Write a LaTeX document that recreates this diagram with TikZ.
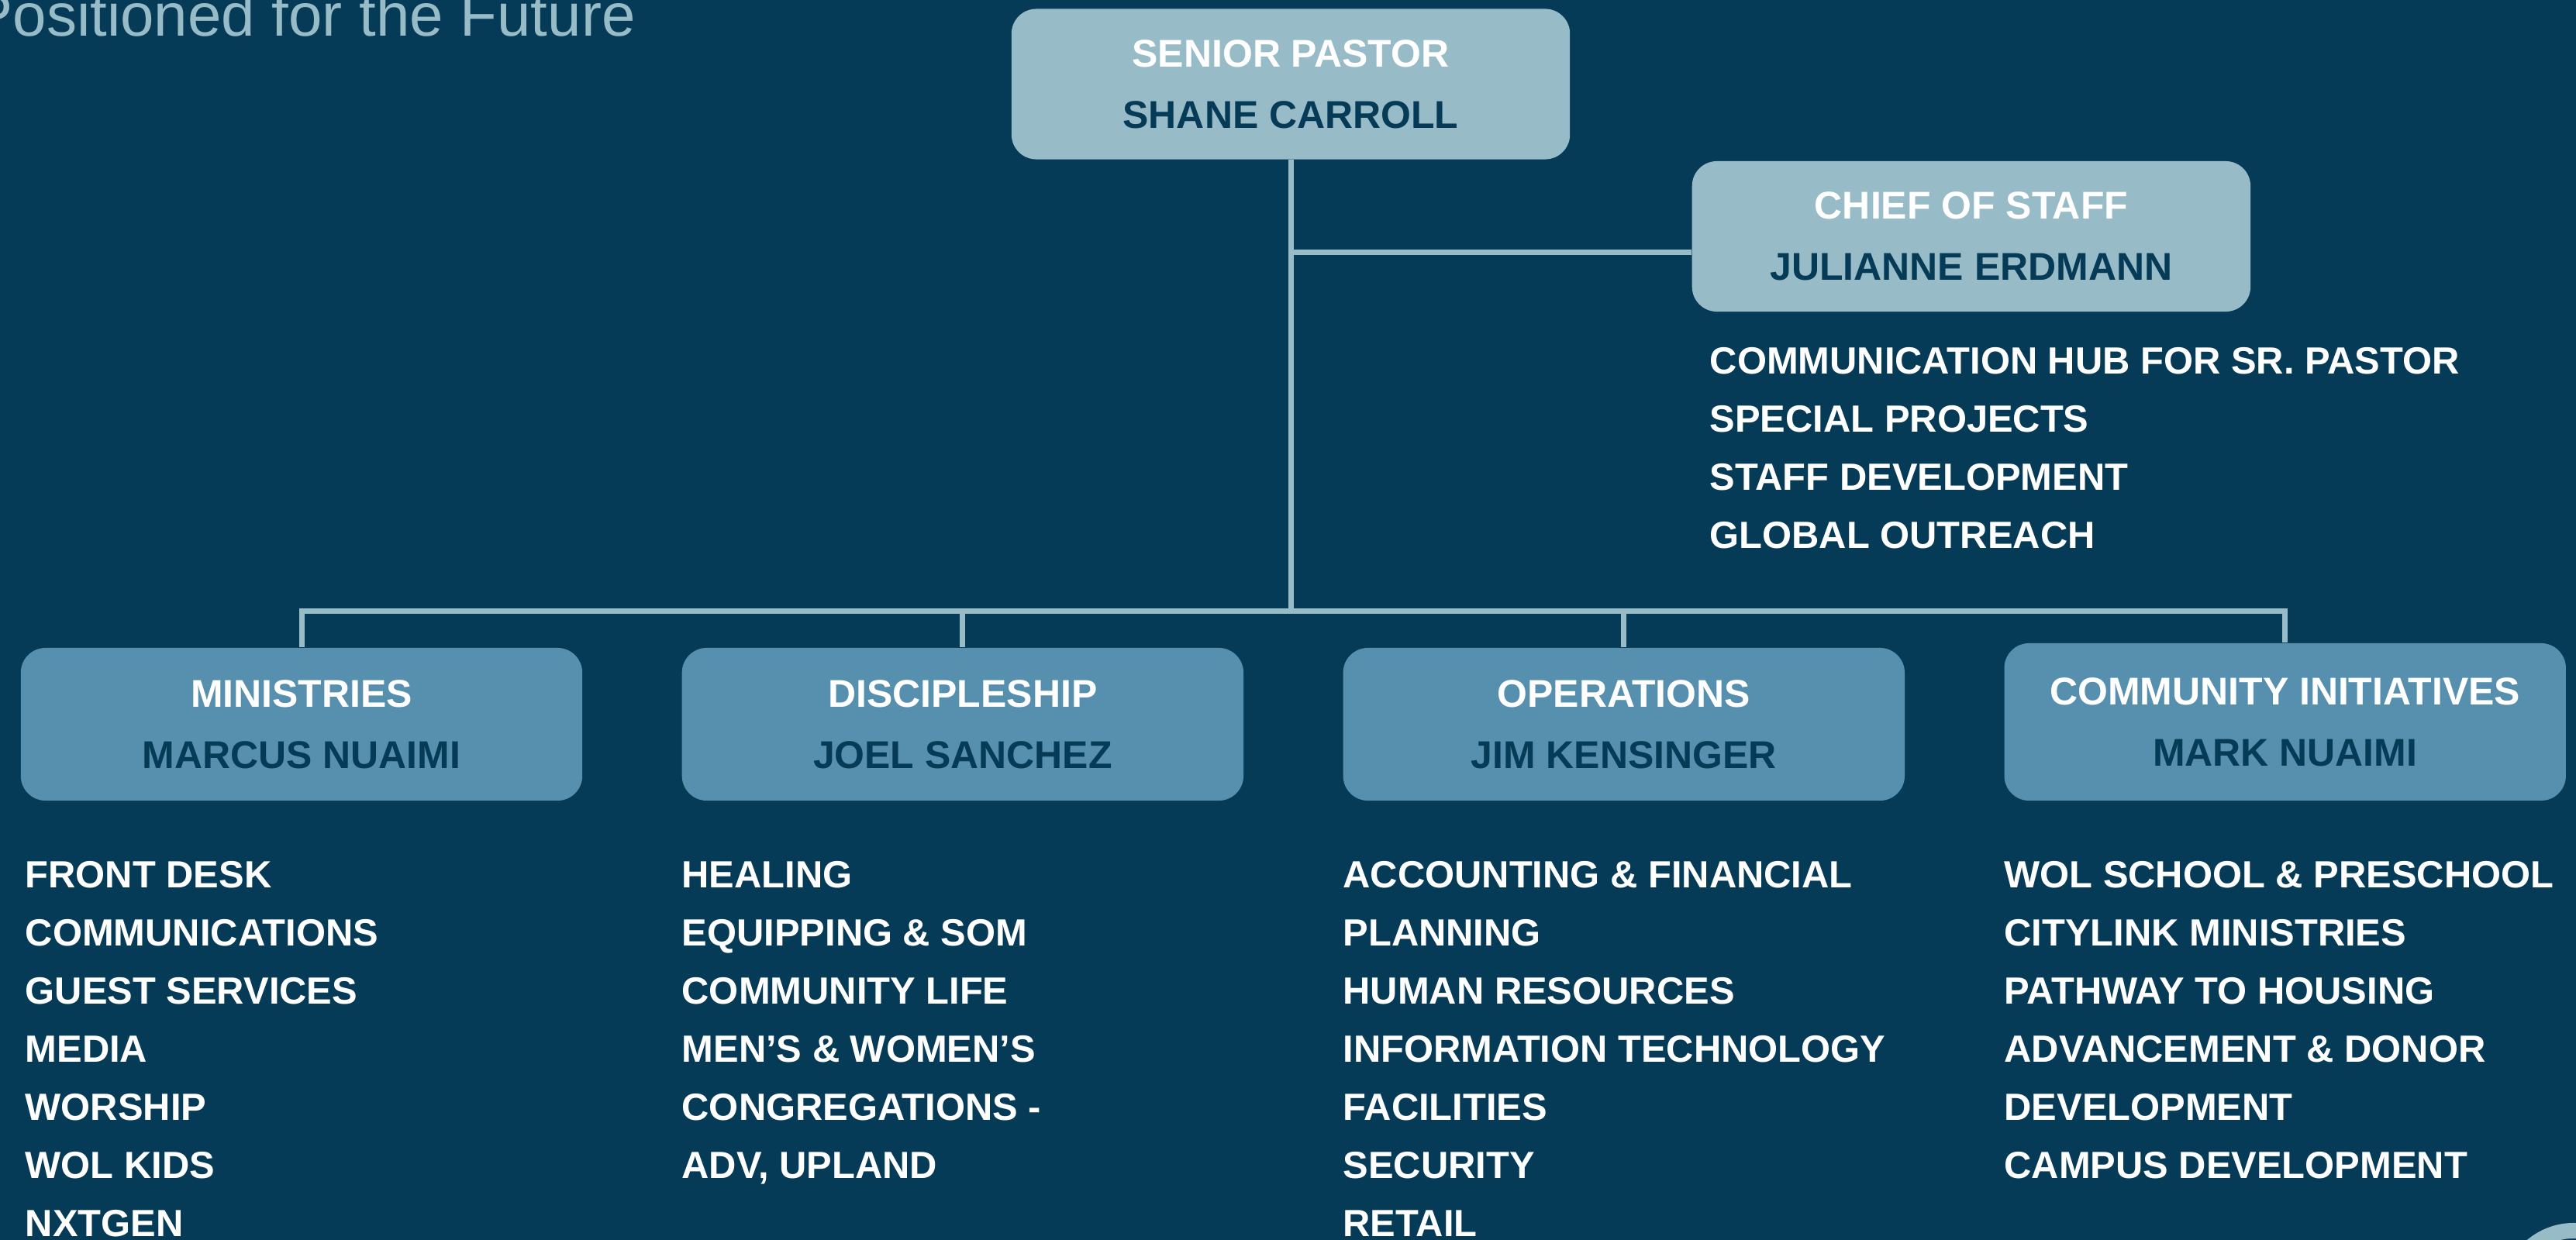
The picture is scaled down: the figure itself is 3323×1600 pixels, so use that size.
\documentclass[tikz,border=0pt]{standalone}
\usepackage{fontspec}
\setmainfont{Liberation Sans}
\usetikzlibrary{positioning}

\definecolor{slate}{HTML}{053B56}
\definecolor{mist}{HTML}{97BBC7}
\definecolor{steel}{HTML}{5690AE}

\begin{document}
\begin{tikzpicture}[
            x=0.01cm, y=-0.01cm,
            leader/.style={rectangle, fill=mist, rounded corners=0.32cm, minimum width=7.2cm, minimum height=1.94cm, align=center, text=white, font=\fontsize{14.2pt}{22.5pt}\selectfont\bfseries},
            dept/.style={leader, fill=steel, minimum width=7.24cm, minimum height=1.97cm},
            duties/.style={inner sep=0pt, align=left, text=white, font=\fontsize{13.9pt}{21.3pt}\selectfont\bfseries},
            link/.style={draw=mist, line width=0.07cm}
        ]
        
        % Slide background
        \useasboundingbox (0,0) rectangle (3323,1600);
        \clip (0,0) rectangle (3323,1600);
        \fill[slate] (0,0) rectangle (3323,1600);
        
        % Title
        \node[anchor=base west, inner sep=0pt, text=mist, font=\fontsize{22.2pt}{26pt}\selectfont] (title) at (-36,47) {Positioned for the Future};
        
        % Top leaders
        \node[leader] (senior) at (1665,108.5) {SENIOR PASTOR\\\textcolor{slate}{SHANE CARROLL}};
        \node[leader, below right=0.01cm and 1.56cm of senior] (chief) {CHIEF OF STAFF\\\textcolor{slate}{JULIANNE ERDMANN}};
        \node[duties, below right=0.45cm and 0.23cm of chief.south west] (chief_duties) {COMMUNICATION HUB FOR SR. PASTOR\\SPECIAL PROJECTS\\STAFF DEVELOPMENT\\GLOBAL OUTREACH};
        
        % Departments
        \node[dept] (ministries) at (389,934.5) {MINISTRIES\\\textcolor{slate}{MARCUS NUAIMI}};
        \node[dept, right=1.27cm of ministries] (discipleship) {DISCIPLESHIP\\\textcolor{slate}{JOEL SANCHEZ}};
        \node[dept, right=1.27cm of discipleship] (operations) {OPERATIONS\\\textcolor{slate}{JIM KENSINGER}};
        \node[dept, minimum height=2.03cm, right=1.27cm of operations, yshift=0.03cm] (community) {COMMUNITY INITIATIVES\\\textcolor{slate}{MARK NUAIMI}};
        
        % Department duties
        \node[duties, below right=0.77cm and 0.06cm of ministries.south west] (ministries_duties) {FRONT DESK\\COMMUNICATIONS\\GUEST SERVICES\\MEDIA\\WORSHIP\\WOL KIDS\\NXTGEN};
        \node[duties, below right=0.77cm and 0cm of discipleship.south west] (discipleship_duties) {HEALING\\EQUIPPING \& SOM\\COMMUNITY LIFE\\MEN’S \& WOMEN’S\\CONGREGATIONS -\\ADV, UPLAND};
        \node[duties, below right=0.77cm and 0cm of operations.south west] (operations_duties) {ACCOUNTING \& FINANCIAL\\PLANNING\\HUMAN RESOURCES\\INFORMATION TECHNOLOGY\\FACILITIES\\SECURITY\\RETAIL};
        \node[duties, below right=0.77cm and 0cm of community.south west] (community_duties) {WOL SCHOOL \& PRESCHOOL\\CITYLINK MINISTRIES\\PATHWAY TO HOUSING\\ADVANCEMENT \& DONOR\\DEVELOPMENT\\CAMPUS DEVELOPMENT};
        
        % Reporting lines
        \coordinate (bus) at (1665,788);
        \coordinate (chief_tap) at ([yshift=-0.2cm]chief.west);
        \draw[link] (senior.south) -- (bus);
        \draw[link] (chief_tap) -- (chief_tap -| senior.south);
        \draw[link] (ministries.north) |- (bus) -| (community.north);
        \draw[link] (discipleship.north) -- (discipleship.north |- bus);
        \draw[link] (operations.north) -- (operations.north |- bus);
        
        % Corner badge
        \node[circle, draw=mist, line width=0.2cm, minimum size=1.66cm] (badge) at (3320,1671) {};
        
    \end{tikzpicture}
\end{document}
